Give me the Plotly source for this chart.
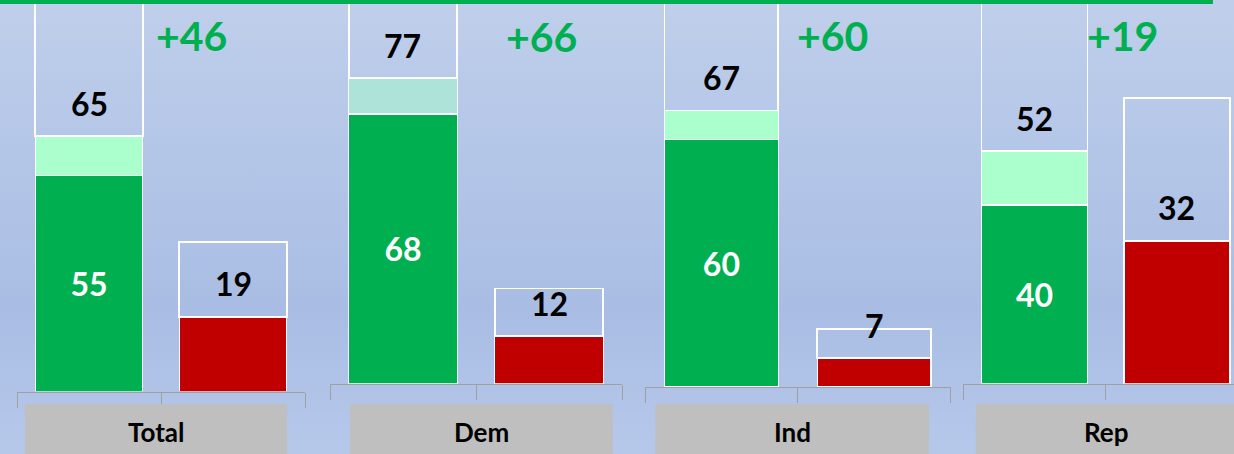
import base64
import plotly.graph_objects as go

# ---------------- data ----------------
groups = ["Total", "Dem", "Ind", "Rep"]
support_strong = [55, 68, 60, 40]      # dark green segment
support_total = [65, 77, 67, 52]       # dark + light green
oppose = [19, 12, 7, 32]               # red bar
net = [46, 66, 60, 19]                 # net label

# ---------------- layout (pixels) ----------------
W, H = 1234, 454
axis_left = [17, 330, 645, 963.3]
slot_px = [144, 146, 152.8, 142.4]
baseline_px = [391.5, 383.8, 387.2, 383.8]
px_per_unit = [3.93, 3.97, 4.13, 4.47]
light_colors = ["#aaffcc", "#ade3d9", "#aaffcc", "#aaffcc"]
net_x_px = [191, 541, 832.5, 1122.5]
net_y_px = [35.5, 36.5, 36, 36]
cat_box_px = [(25, 287), (350, 612.7), (655.3, 929), (975.7, 1237)]
cat_box_top = 404
cat_text_y = 432

DARK = "#00b050"
RED = "#c00000"
FONT = "Lato"
BAR_W = 0.745

fig = go.Figure()
layout_axes = {}
annotations = []
shapes = []

for i, g in enumerate(groups):
    n = "" if i == 0 else str(i + 1)
    xa, ya = "x" + n, "y" + n
    s, t, o = support_strong[i], support_total[i], oppose[i]
    common = dict(xaxis=xa, yaxis=ya, width=BAR_W, showlegend=False,
                  hoverinfo="skip")
    fig.add_trace(go.Bar(x=[0], y=[s], marker=dict(color=DARK, line=dict(color="white", width=1.5)),
                         text=[str(s)], textposition="inside", insidetextanchor="middle",
                         textangle=0,
                         textfont=dict(family=FONT, size=32, color="white", weight="bold"),
                         **common))
    fig.add_trace(go.Bar(x=[0], y=[t - s], marker=dict(color=light_colors[i], line=dict(color="white", width=1.5)),
                         textposition="none", **common))
    fig.add_trace(go.Bar(x=[1], y=[o], marker=dict(color=RED, line=dict(color="white", width=1.5)),
                         textposition="none", **common))
    fig.add_trace(go.Bar(x=[0, 1], y=[t, o], marker=dict(color="rgba(0,0,0,0)", line=dict(color="white", width=1.8)),
                         textposition="none", **common))

    x0 = axis_left[i] / W
    x1px = min(axis_left[i] + 2 * slot_px[i], W)
    x1 = x1px / W
    xr = [-0.5, -0.5 + (x1px - axis_left[i]) / slot_px[i]]
    ydom0 = 1 - baseline_px[i] / H
    yr = [0, baseline_px[i] / px_per_unit[i]]
    layout_axes["xaxis" + n] = dict(domain=[x0, x1], range=xr, anchor=ya,
                                    showline=True, linecolor="#a0a0a0", linewidth=1,
                                    ticks="outside", tickvals=[-0.5, 0.5, 1.5], ticklen=15,
                                    tickcolor="#a0a0a0", tickwidth=1.2,
                                    showticklabels=False, showgrid=False, zeroline=False,
                                    fixedrange=True)
    layout_axes["yaxis" + n] = dict(domain=[ydom0, 1], range=yr, anchor=xa,
                                    visible=False, fixedrange=True)

    # value labels above the stacks
    for xv, yv in ((0, t), (1, o)):
        annotations.append(dict(x=xv, y=yv, xref=xa, yref=ya, text=str(yv),
                                showarrow=False, yshift=33, yanchor="middle",
                                font=dict(family=FONT, size=32, color="black", weight="bold")))
    # net label
    annotations.append(dict(x=net_x_px[i] / W, y=1 - net_y_px[i] / H, xref="paper", yref="paper",
                            text="+" + str(net[i]), showarrow=False,
                            xanchor="center", yanchor="middle",
                            font=dict(family=FONT, size=41, color=DARK, weight="bold")))
    # category box
    bx0, bx1 = cat_box_px[i]
    shapes.append(dict(type="rect", xref="paper", yref="paper",
                       x0=bx0 / W, x1=min(bx1, W) / W, y0=0, y1=1 - cat_box_top / H,
                       fillcolor="#bfbfbf", line=dict(width=0), layer="above"))
    annotations.append(dict(x=(bx0 + bx1) / 2 / W, y=1 - cat_text_y / H, xref="paper", yref="paper",
                            text=g, showarrow=False, xanchor="center", yanchor="middle",
                            font=dict(family=FONT, size=26, color="black", weight="bold")))

# green line at top
shapes.append(dict(type="rect", xref="paper", yref="paper", x0=0, x1=1213 / W,
                   y0=1 - 4 / H, y1=1, fillcolor=DARK, line=dict(width=0), layer="above"))

svg = ('<svg xmlns="http://www.w3.org/2000/svg" width="10" height="100" viewBox="0 0 10 100" '
       'preserveAspectRatio="none"><defs><linearGradient id="g" x1="0" y1="0" x2="0" y2="1">'
       '<stop offset="0" stop-color="#bfcfeb"/><stop offset="0.68" stop-color="#a9bde4"/>'
       '<stop offset="1" stop-color="#b6c8ea"/></linearGradient></defs>'
       '<rect width="10" height="100" fill="url(#g)"/></svg>')
bg_src = "data:image/svg+xml;base64," + base64.b64encode(svg.encode()).decode()

fig.update_layout(
    width=W, height=H, autosize=False,
    margin=dict(l=0, r=0, t=0, b=0, pad=0),
    barmode="stack",
    paper_bgcolor="#b3c5e8",
    plot_bgcolor="rgba(0,0,0,0)",
    showlegend=False,
    annotations=annotations,
    shapes=shapes,
    images=[dict(source=bg_src, xref="paper", yref="paper", x=0, y=1, sizex=1, sizey=1,
                 xanchor="left", yanchor="top", sizing="stretch", layer="below")],
    **layout_axes,
)

fig.write_html("out.html", config={"displayModeBar": False},
               post_script="document.body.style.margin='0';document.body.style.overflow='hidden';")
